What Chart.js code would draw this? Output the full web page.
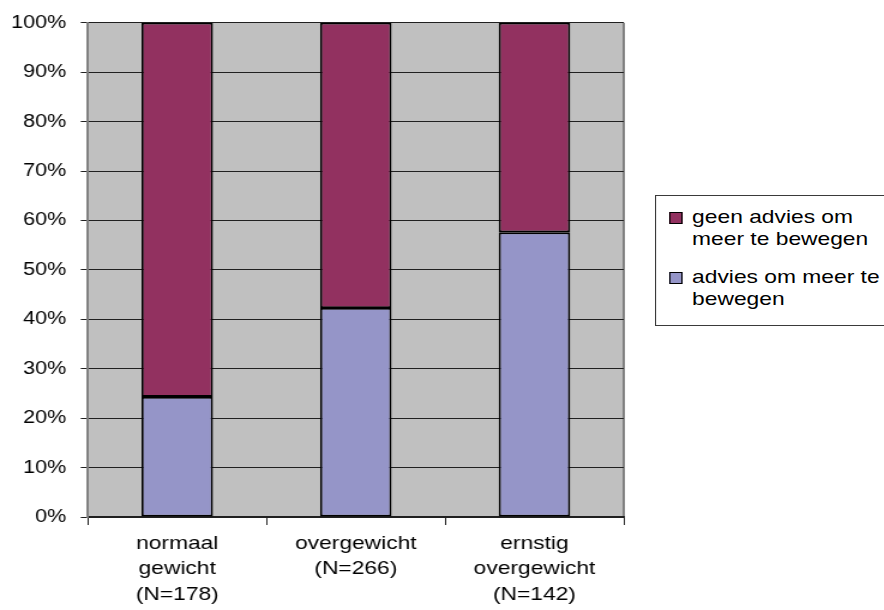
<!DOCTYPE html>
<html>
<head>
<meta charset="utf-8">
<script src="https://cdn.jsdelivr.net/npm/chart.js@4"></script>
<style>
  html, body { margin: 0; padding: 0; overflow: hidden; background: #fff; }
  /* the drawing is laid out narrow and widened horizontally */
  #stage { position: absolute; left: 0; top: 0; width: 737px; height: 610px; overflow: hidden;
           transform: scaleX(1.1995); transform-origin: 0 0; }
  #chart { position: absolute; left: 0; top: 0; }
  #legend { position: absolute; left: 546px; top: 195px; width: 260px; height: 129px;
            border: 1px solid #3a3a3a; background: #fff;
            font-family: "Liberation Sans", Arial, sans-serif; font-size: 19px; line-height: 22px; color: #000; }
  .item { position: absolute; left: 0; }
  .swatch { position: absolute; left: 11px; top: 6px; width: 9px; height: 10px; border: 1px solid #000; }
  .label { position: absolute; left: 30px; top: 0; width: 168px; white-space: normal; }
</style>
</head>
<body>
<div id="stage">
  <canvas id="chart" width="737" height="610"></canvas>
  <div id="legend"></div>
</div>
<script>
// Categories (multi-line axis labels)
const categories = [
  ["normaal", "gewicht", "(N=178)"],
  ["overgewicht", "(N=266)"],
  ["ernstig", "overgewicht", "(N=142)"]
];
// Share of respondents, percent
const adviesPct     = [24.3, 42.3, 57.6];
const geenAdviesPct = [75.7, 57.7, 42.4];
const seriesNames   = ["advies om meer te bewegen", "geen advies om meer te bewegen"];
const seriesColors  = ["#9595C8", "#923160"];
const yTickStep = 10;
const yMax = 100;

const FONT = '"Liberation Sans", Arial, sans-serif';

const plotBackground = {
  id: 'plotBackground',
  beforeDraw(chart) {
    const { ctx, chartArea: a } = chart;
    ctx.save();
    ctx.fillStyle = '#C0C0C0';
    ctx.fillRect(a.left, a.top, a.right - a.left, a.bottom - a.top);
    ctx.strokeStyle = '#808080';
    ctx.lineWidth = 2;
    ctx.beginPath();
    ctx.moveTo(a.right, a.top);
    ctx.lineTo(a.right, a.bottom);
    ctx.stroke();
    ctx.restore();
  }
};

const chart = new Chart(document.getElementById('chart'), {
  type: 'bar',
  data: {
    labels: categories,
    datasets: [
      { label: seriesNames[0], data: adviesPct, backgroundColor: seriesColors[0] },
      { label: seriesNames[1], data: geenAdviesPct, backgroundColor: seriesColors[1] }
    ]
  },
  options: {
    responsive: false,
    animation: false,
    devicePixelRatio: 1,
    layout: { padding: { top: 20, right: 217, left: 0, bottom: 0 } },
    datasets: {
      bar: {
        categoryPercentage: 1,
        barPercentage: 0.4,
        borderColor: '#000',
        borderWidth: 1.8,
        borderSkipped: false
      }
    },
    plugins: { legend: { display: false }, tooltip: { enabled: false } },
    scales: {
      x: {
        stacked: true,
        afterFit(scale) { scale.height = 93; },
        grid: { drawOnChartArea: false, drawTicks: true, tickLength: 8, color: '#202020', lineWidth: 1, offset: true },
        border: { display: true, color: '#202020', width: 2 },
        ticks: { color: '#000', padding: 6, maxRotation: 0, autoSkip: false,
                 font: { family: FONT, size: 19, lineHeight: 1.34 } }
      },
      y: {
        stacked: true,
        min: 0,
        max: yMax,
        afterFit(scale) { scale.width = 73.3; },
        grid: { color: '#202020', lineWidth: 1, drawTicks: true, tickLength: 6 },
        border: { display: true, color: '#808080', width: 2 },
        ticks: { stepSize: yTickStep, color: '#000', padding: 12,
                 font: { family: FONT, size: 18 },
                 callback: v => v + '%' }
      }
    }
  },
  plugins: [plotBackground]
});

// Legend box built from the chart's datasets, top series first
const legendEl = document.getElementById('legend');
const items = chart.options.plugins.legend.labels.generateLabels(chart).reverse();
const itemTops = [10, 70];
items.forEach((it, i) => {
  const div = document.createElement('div');
  div.className = 'item';
  div.style.top = itemTops[i] + 'px';
  div.style.width = '100%';
  const sw = document.createElement('span');
  sw.className = 'swatch';
  sw.style.background = it.fillStyle;
  const lb = document.createElement('span');
  lb.className = 'label';
  lb.textContent = it.text;
  div.appendChild(sw);
  div.appendChild(lb);
  legendEl.appendChild(div);
});
</script>
</body>
</html>
